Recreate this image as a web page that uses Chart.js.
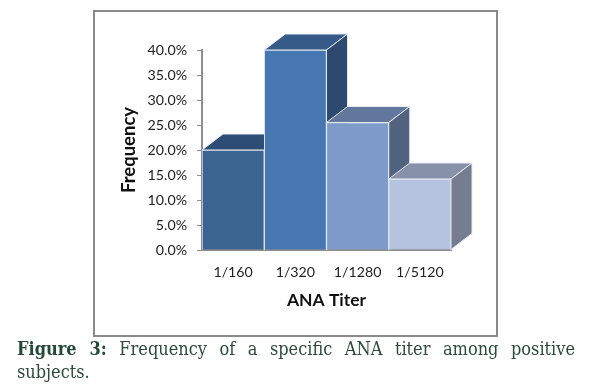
<!DOCTYPE html>
<html lang="en">
<head>
  <meta charset="UTF-8" />
  <title>ANA Titer Frequency</title>
  <script src="https://cdn.jsdelivr.net/npm/chart.js"></script>
  <style>
    html, body { margin: 0; padding: 0; background: #fff; overflow: hidden; }
    #frame { position: absolute; left: 93px; top: 10px; width: 401px; height: 323px; border: 2px solid #8a8a8a; }
    #wrap { position: absolute; left: 0; top: 0; width: 611px; height: 390px; }
    #caption {
      position: absolute; left: 17px; top: 337px; width: 558px;
      font: 18px/23px "DejaVu Serif Condensed", "DejaVu Serif", serif; color: #2c4a3c;
    }
    #caption div { text-align: justify; text-align-last: justify; }
    #caption div + div { text-align-last: left; }
    #caption b { color: #24483a; }
  </style>
</head>
<body>
  <div id="frame"></div>
  <div id="wrap"><canvas id="chart" width="611" height="390"></canvas></div>
  <div id="caption">
    <div><b>Figure 3:</b> Frequency of a specific ANA titer among positive</div>
    <div>subjects.</div>
  </div>

  <script>
    const categories = ['1/160', '1/320', '1/1280', '1/5120'];
    const frequency = [20, 40, 25.5, 14.2];
    const frontColors = ['#3b6490', '#4677b0', '#7f9bc9', '#b5c3de'];
    const topColors = ['#2e4d75', '#375b88', '#61779c', '#8791a9'];
    const sideColors = ['#2c4a70', '#2c4a70', '#51637f', '#767d90'];

    const depthX = 21, depthY = 16;

    // the extruded top and side of each bar, fronts are drawn by Chart.js over them
    const extrude = {
      id: 'extrude',
      beforeDatasetsDraw(chart) {
        const ctx = chart.ctx;
        ctx.save();
        ctx.strokeStyle = '#e4eaf2';
        ctx.lineWidth = 1;
        chart.getDatasetMeta(0).data.forEach((bar, i) => {
          const l = bar.x - bar.width / 2, r = bar.x + bar.width / 2;
          const t = bar.y, b = bar.base;
          ctx.fillStyle = topColors[i];
          ctx.beginPath();
          ctx.moveTo(l, t);
          ctx.lineTo(l + depthX, t - depthY);
          ctx.lineTo(r + depthX, t - depthY);
          ctx.lineTo(r, t);
          ctx.closePath();
          ctx.fill();
          ctx.stroke();
          ctx.fillStyle = sideColors[i];
          ctx.beginPath();
          ctx.moveTo(r, t);
          ctx.lineTo(r + depthX, t - depthY);
          ctx.lineTo(r + depthX, b - depthY);
          ctx.lineTo(r, b);
          ctx.closePath();
          ctx.fill();
          ctx.stroke();
        });
        ctx.restore();
      }
    };

    new Chart(document.getElementById('chart'), {
      type: 'bar',
      data: {
        labels: categories,
        datasets: [{
          data: frequency,
          backgroundColor: frontColors,
          borderColor: '#e4eaf2',
          borderWidth: 1,
          barPercentage: 1,
          categoryPercentage: 1
        }]
      },
      options: {
        responsive: false,
        animation: false,
        layout: { padding: { left: 118, top: 50, right: 160, bottom: 79 } },
        plugins: { legend: { display: false }, tooltip: { enabled: false } },
        scales: {
          x: {
            afterFit(scale) { scale.height = 61; },
            grid: { display: false },
            border: { color: '#8e8e8e', width: 2 },
            ticks: { color: '#222', font: { family: 'Lato', size: 14.2 }, padding: 6, maxRotation: 0 },
            title: { display: true, text: 'ANA Titer', color: '#111', font: { family: 'Lato', size: 17.5, weight: 'bold' }, padding: 0 }
          },
          y: {
            min: 0,
            max: 40,
            afterFit(scale) { scale.width = 84; },
            grid: { drawOnChartArea: false, color: '#8e8e8e', tickLength: 5 },
            border: { color: '#8e8e8e', width: 2 },
            ticks: {
              stepSize: 5,
              color: '#222',
              font: { family: 'Lato', size: 14.2 },
              padding: 10,
              callback: v => v.toFixed(1) + '%'
            },
            title: { display: true, text: 'Frequency', color: '#111', font: { family: 'Lato', size: 18.5, weight: 'bold' }, padding: 0 }
          }
        }
      },
      plugins: [extrude]
    });
  </script>
</body>
</html>
